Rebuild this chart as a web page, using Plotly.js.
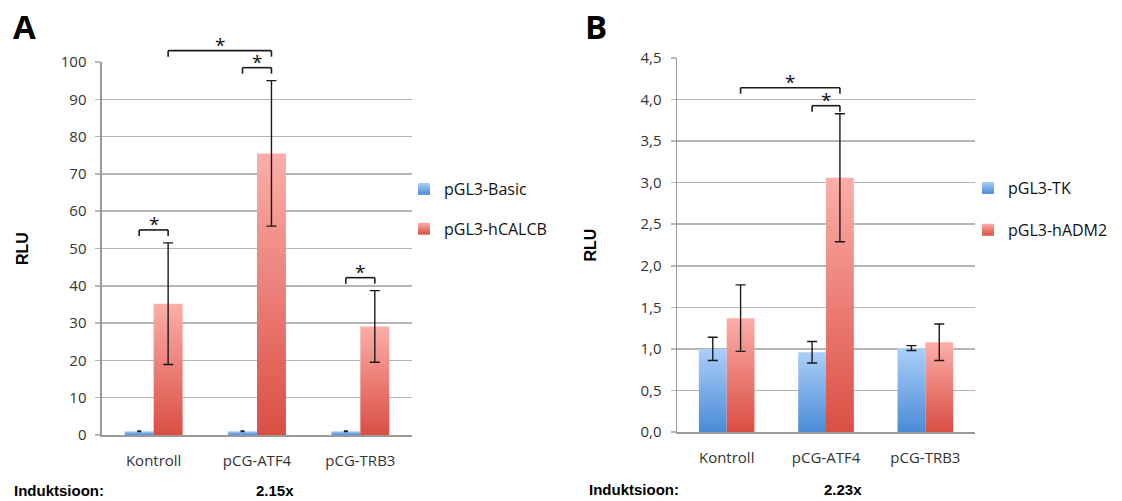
<!DOCTYPE html>
<html>
<head>
<meta charset="utf-8">
<script src="https://cdn.plot.ly/plotly-3.0.1.min.js"></script>
<style>html,body{margin:0;padding:0;background:#fff;}#chart{width:1122px;height:501px;}</style>
</head>
<body>
<div id="chart"></div>
<script>
// ---------- DATA ----------
const categories = ['Kontroll', 'pCG-ATF4', 'pCG-TRB3'];

// Panel A
const seriesA = ['pGL3-Basic', 'pGL3-hCALCB'];
const aBasic = [1.0, 1.0, 1.0];
const aBasicErr = [0.1, 0.1, 0.1];
const aCalcb = [35.2, 75.5, 29.1];
const aCalcbErr = [16.3, 19.5, 9.6];
// significance: [category, series] -> [category, series], stacking level
const sigA = [
  {from: [0, 0], to: [0, 1], level: 0},
  {from: [1, 0], to: [1, 1], level: 0},
  {from: [0, 1], to: [1, 1], level: 1},
  {from: [2, 0], to: [2, 1], level: 0}
];
const inductionA = '2.15x';

// Panel B
const seriesB = ['pGL3-TK', 'pGL3-hADM2'];
const bTK = [1.00, 0.96, 1.01];
const bTKErr = [0.14, 0.13, 0.03];
const bADM2 = [1.37, 3.06, 1.08];
const bADM2Err = [0.40, 0.77, 0.22];
const sigB = [
  {from: [1, 0], to: [1, 1], level: 0},
  {from: [0, 1], to: [1, 1], level: 1}
];
const inductionB = '2.23x';

const yRangeA = [0, 100];
const yRangeB = [0, 4.5];

// ---------- STYLE ----------
const W = 1122, H = 501;
const BLUE = '#78acec', RED = '#ec7c72';
const GRID = '#b5b5b5';
const BARGAP = 0.44;
const domA = {x: [0.0909, 0.3672], y: [0.1317, 0.8762]};
const domB = {x: [0.6034, 0.8690], y: [0.1377, 0.8842]};

function errBar(arr, w) {
  return {type: 'data', array: arr, visible: true, color: '#1a1a1a', thickness: 1.4, width: w};
}

const data = [
  {type: 'bar', name: seriesA[0], x: categories, y: aBasic, error_y: errBar(aBasicErr, 2),
   marker: {color: BLUE}, xaxis: 'x', yaxis: 'y', legend: 'legend', legendgroup: 'a1'},
  {type: 'bar', name: seriesA[1], x: categories, y: aCalcb, error_y: errBar(aCalcbErr, 5),
   marker: {color: RED}, xaxis: 'x', yaxis: 'y', legend: 'legend', legendgroup: 'a2'},
  {type: 'bar', name: seriesB[0], x: categories, y: bTK, error_y: errBar(bTKErr, 5),
   marker: {color: BLUE}, xaxis: 'x2', yaxis: 'y2', legend: 'legend2', legendgroup: 'b1'},
  {type: 'bar', name: seriesB[1], x: categories, y: bADM2, error_y: errBar(bADM2Err, 5),
   marker: {color: RED}, xaxis: 'x2', yaxis: 'y2', legend: 'legend2', legendgroup: 'b2'}
];

function yPaper(v, range, dom) {
  return dom[0] + (v - range[0]) / (range[1] - range[0]) * (dom[1] - dom[0]);
}
function xPos(cat, ser) {
  return cat + (ser === 0 ? -1 : 1) * (1 - BARGAP) / 4;
}

const shapes = [];
const annotations = [];

function addBrackets(sigs, vals, errs, range, dom, xref, gapPx, stackPx) {
  sigs.forEach(s => {
    const c0 = Math.min(s.from[0], s.to[0]), c1 = Math.max(s.from[0], s.to[0]);
    let top = -Infinity;
    for (let c = c0; c <= c1; c++) {
      for (let k = 0; k < 2; k++) top = Math.max(top, vals[k][c] + errs[k][c]);
    }
    const yb = yPaper(top, range, dom) + (gapPx + s.level * stackPx) / H;
    const tick = 6 / H;
    const x0 = xPos(s.from[0], s.from[1]), x1 = xPos(s.to[0], s.to[1]);
    const line = {color: '#1a1a1a', width: 1.6};
    shapes.push({type: 'line', xref: xref, yref: 'paper', x0: x0, x1: x1, y0: yb, y1: yb, line: line});
    shapes.push({type: 'line', xref: xref, yref: 'paper', x0: x0, x1: x0, y0: yb, y1: yb - tick, line: line});
    shapes.push({type: 'line', xref: xref, yref: 'paper', x0: x1, x1: x1, y0: yb, y1: yb - tick, line: line});
    annotations.push({xref: xref, yref: 'paper', x: (x0 + x1) / 2, y: yb, text: '*', showarrow: false,
      xanchor: 'center', yanchor: 'bottom', yshift: -9, font: {size: 19, color: '#111', family: 'Open Sans'}});
  });
}
addBrackets(sigA, [aBasic, aCalcb], [aBasicErr, aCalcbErr], yRangeA, domA.y, 'x', 13, 17);
addBrackets(sigB, [bTK, bADM2], [bTKErr, bADM2Err], yRangeB, domB.y, 'x2', 8, 18);

const boldF = {family: 'Liberation Sans, Arial', size: 15, color: '#000'};
annotations.push(
  {xref: 'paper', yref: 'paper', x: 11 / W, y: 1 - 27 / H, text: '<b>A</b>', showarrow: false, xanchor: 'left', yanchor: 'middle',
   font: {family: 'Open Sans', size: 33, color: '#000'}},
  {xref: 'paper', yref: 'paper', x: 583 / W, y: 1 - 27 / H, text: '<b>B</b>', showarrow: false, xanchor: 'left', yanchor: 'middle',
   font: {family: 'Open Sans', size: 33, color: '#000'}},
  {xref: 'paper', yref: 'paper', x: 12 / W, y: 1 - 490 / H, text: '<b>Induktsioon:</b>', showarrow: false, xanchor: 'left', yanchor: 'middle', font: boldF},
  {xref: 'paper', yref: 'paper', x: 275 / W, y: 1 - 490 / H, text: '<b>' + inductionA + '</b>', showarrow: false, xanchor: 'center', yanchor: 'middle', font: boldF},
  {xref: 'paper', yref: 'paper', x: 587 / W, y: 1 - 489 / H, text: '<b>Induktsioon:</b>', showarrow: false, xanchor: 'left', yanchor: 'middle', font: boldF},
  {xref: 'paper', yref: 'paper', x: 843 / W, y: 1 - 489 / H, text: '<b>' + inductionB + '</b>', showarrow: false, xanchor: 'center', yanchor: 'middle', font: boldF}
);

const tickFont = {family: 'Open Sans', size: 15, color: '#333'};
function xAxis(dom, anchor) {
  return {domain: dom, anchor: anchor, type: 'category', showline: true, linecolor: '#9a9a9a', linewidth: 1.5,
    showgrid: false, ticks: '', tickfont: tickFont, ticklabelstandoff: 11, fixedrange: true};
}
function yAxis(dom, anchor, range, dtick, fmt, standoff) {
  return {domain: dom, anchor: anchor, range: range, dtick: dtick, tick0: 0, tickformat: fmt,
    showline: true, linecolor: '#9a9a9a', linewidth: 1.5, showgrid: true, gridcolor: GRID, gridwidth: 1.5,
    ticks: 'outside', ticklen: 5, tickcolor: GRID, tickwidth: 1.5, tickfont: tickFont, ticklabelstandoff: 6,
    zeroline: false, automargin: false,
    title: {text: '<b>RLU</b>', font: {family: 'Liberation Sans, Arial', size: 16, color: '#000'}, standoff: standoff}};
}

const legendFont = {family: 'Open Sans', size: 16, color: '#111'};
const layout = {
  width: W, height: H,
  margin: {l: 0, r: 0, t: 0, b: 0},
  paper_bgcolor: '#fff', plot_bgcolor: '#fff',
  separators: ',.',
  barmode: 'group', bargap: BARGAP, bargroupgap: 0,
  font: {family: 'Open Sans'},
  xaxis: xAxis(domA.x, 'y'),
  yaxis: yAxis(domA.y, 'x', yRangeA, 10, 'd', 28),
  xaxis2: xAxis(domB.x, 'y2'),
  yaxis2: yAxis(domB.y, 'x2', yRangeB, 0.5, '.1f', 40),
  legend: {x: 404 / W, y: 1 - 172 / H, xanchor: 'left', yanchor: 'top', font: legendFont,
    traceorder: 'grouped', tracegroupgap: 16, bgcolor: 'rgba(0,0,0,0)', itemwidth: 30},
  legend2: {x: 968 / W, y: 1 - 171 / H, xanchor: 'left', yanchor: 'top', font: legendFont,
    traceorder: 'grouped', tracegroupgap: 18, bgcolor: 'rgba(0,0,0,0)', itemwidth: 30},
  shapes: shapes,
  annotations: annotations
};

const gd = document.getElementById('chart');

function applyGradients() {
  const svg = gd.querySelector('svg.main-svg');
  const NS = 'http://www.w3.org/2000/svg';
  let defs = svg.querySelector('defs');
  if (!defs) { defs = document.createElementNS(NS, 'defs'); svg.insertBefore(defs, svg.firstChild); }
  const grads = {
    [BLUE]: ['gradBlueBar', '#abcff9', '#4a8bd6'],
    [RED]: ['gradRedBar', '#fcaea9', '#da4e43']
  };
  Object.keys(grads).forEach(k => {
    const [id, c1, c2] = grads[k];
    const g = document.createElementNS(NS, 'linearGradient');
    g.setAttribute('id', id);
    g.setAttribute('x1', '0'); g.setAttribute('y1', '0'); g.setAttribute('x2', '0'); g.setAttribute('y2', '1');
    [[0, c1], [1, c2]].forEach(([o, c]) => {
      const s = document.createElementNS(NS, 'stop');
      s.setAttribute('offset', String(o)); s.setAttribute('stop-color', c);
      g.appendChild(s);
    });
    defs.appendChild(g);
  });
  gd.querySelectorAll('g.trace.bars').forEach(tg => {
    const d = tg.__data__;
    const tr = d && d[0] && d[0].trace;
    if (!tr || !grads[tr.marker.color]) return;
    tg.querySelectorAll('g.point path').forEach(p => { p.style.fill = 'url(#' + grads[tr.marker.color][0] + ')'; });
  });
  gd.querySelectorAll('g.legend g.traces, g.legend2 g.traces, .legend g.traces').forEach(tg => {
    const d = tg.__data__;
    let tr = null;
    if (d && d[0]) tr = d[0].trace || (d[0][0] && d[0][0].trace);
    if (!tr || !grads[tr.marker.color]) return;
    tg.querySelectorAll('.legendpoints path').forEach(p => { p.style.fill = 'url(#' + grads[tr.marker.color][0] + ')'; p.style.stroke = 'none'; });
  });
}

Plotly.newPlot(gd, data, layout, {staticPlot: true, displayModeBar: false}).then(applyGradients);
</script>
</body>
</html>
